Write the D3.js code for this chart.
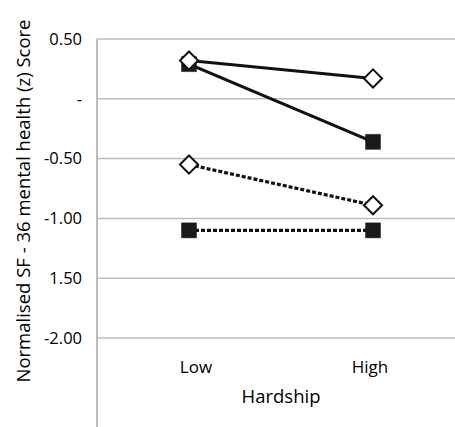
<!DOCTYPE html>
<html><head><meta charset="utf-8">
<script src="https://cdn.jsdelivr.net/npm/d3@7"></script>
<style>body{margin:0;background:#fff}svg{display:block;font-family:"Open Sans",sans-serif}</style>
</head><body><svg id="c" width="455" height="427"></svg>
<script>
const categories = ["Low", "High"];
const tickValues = [0.5, 0, -0.5, -1.0, -1.5, -2.0];
const tickLabels = ["0.50", "-", "-0.50", "-1.00", "1.50", "-2.00"];
const seriesA = [0.32, 0.17];   // solid, open diamonds
const seriesB = [0.29, -0.36];  // solid, filled squares
const seriesC = [-0.55, -0.89]; // dotted, open diamonds
const seriesD = [-1.10, -1.10]; // dotted, filled squares
const xTitle = "Hardship";
const yTitle = "Normalised SF - 36 mental health (z) Score";

const series = [
  {v: seriesB, dash: null, marker: "square"},
  {v: seriesA, dash: null, marker: "diamond"},
  {v: seriesC, dash: "4,2", marker: "diamond"},
  {v: seriesD, dash: "4,2", marker: "square"}
];

const svg = d3.select("#c");
const pLeft = 97, pRight = 465, pTop = 39;
const x = d3.scaleBand().domain(categories).range([pLeft, pRight]);
const y = d3.scaleLinear().domain([-2.0, 0.5]).range([338, pTop]);

// gridlines
svg.append("g").selectAll("line").data(tickValues).join("line")
  .attr("x1", pLeft).attr("x2", pRight)
  .attr("y1", d => y(d)).attr("y2", d => y(d))
  .attr("stroke", "#bdbdbd").attr("stroke-width", 1.5);

// y axis line
svg.append("line").attr("x1", pLeft).attr("x2", pLeft).attr("y1", pTop).attr("y2", 427)
  .attr("stroke", "#bdbdbd").attr("stroke-width", 2);

// y tick labels
svg.append("g").selectAll("text").data(tickValues).join("text")
  .attr("x", pLeft - 15).attr("y", d => y(d)).attr("dy", "0.35em")
  .attr("text-anchor", "end").attr("font-size", 16.5).attr("fill", "#000")
  .text((d, i) => tickLabels[i]);

// x labels
svg.append("g").selectAll("text").data(categories).join("text")
  .attr("x", d => x(d) + x.bandwidth() / 2 + (d === "Low" ? 7 : -3)).attr("y", 373)
  .attr("text-anchor", "middle").attr("font-size", 17).attr("fill", "#000")
  .text(d => d);

svg.append("text").attr("x", 281).attr("y", 403).attr("text-anchor", "middle")
  .attr("font-size", 18.5).attr("fill", "#000").text(xTitle);

svg.append("text").attr("transform", "translate(30,201) rotate(-90)")
  .attr("text-anchor", "middle").attr("font-size", 18.5).attr("fill", "#000").text(yTitle);

const cx = d => x(d) + x.bandwidth() / 2;
const line = d3.line().x(d => cx(d.c)).y(d => y(d.v));

series.forEach(s => {
  const pts = categories.map((c, i) => ({c, v: s.v[i]}));
  svg.append("path").datum(pts).attr("d", line).attr("fill", "none")
    .attr("stroke", "#111").attr("stroke-width", 3.2)
    .attr("stroke-dasharray", s.dash);
  const sym = s.marker === "square"
    ? d3.symbol().type(d3.symbolSquare).size(225)
    : d3.symbol().type(d3.symbolDiamond2).size(210);
  svg.append("g").selectAll("path").data(pts).join("path")
    .attr("transform", d => `translate(${cx(d.c)},${y(d.v)})`)
    .attr("d", sym)
    .attr("fill", s.marker === "square" ? "#1a1a1a" : "#fff")
    .attr("stroke", s.marker === "square" ? "#1a1a1a" : "#111")
    .attr("stroke-width", s.marker === "square" ? 0.5 : 2);
});
</script></body></html>
